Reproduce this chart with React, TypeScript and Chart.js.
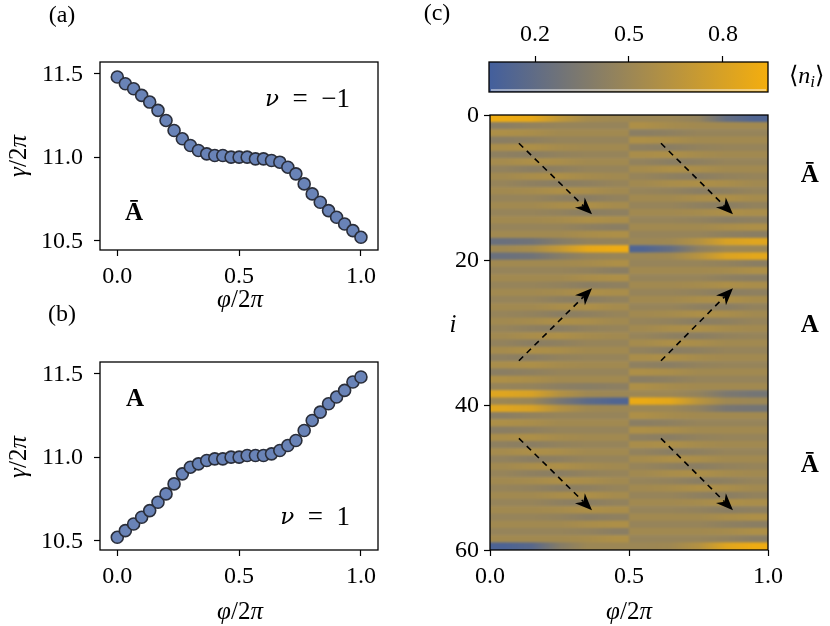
import React, { useEffect, useRef } from 'react';
import { Chart, registerables } from 'chart.js';
Chart.register(...registerables);

const FONT = "'Liberation Serif', 'DejaVu Serif', serif";
Chart.defaults.font.family = FONT;
Chart.defaults.color = '#000';

// ---------- data ----------
const phiGrid = [0, 0.033, 0.067, 0.1, 0.133, 0.167, 0.2, 0.233, 0.267, 0.3, 0.333, 0.367, 0.4, 0.433, 0.467, 0.5,
  0.533, 0.567, 0.6, 0.633, 0.667, 0.7, 0.733, 0.767, 0.8, 0.833, 0.867, 0.9, 0.933, 0.967, 1];
const gammaNuMinus = [11.48, 11.44, 11.41, 11.37, 11.33, 11.28, 11.22, 11.16, 11.11, 11.07, 11.04, 11.02, 11.01, 11.01, 11.0, 11.0,
  11.0, 10.99, 10.99, 10.98, 10.97, 10.94, 10.9, 10.84, 10.78, 10.73, 10.68, 10.64, 10.6, 10.56, 10.52];
const gammaNuPlus = [10.52, 10.56, 10.6, 10.64, 10.68, 10.73, 10.78, 10.84, 10.9, 10.94, 10.96, 10.98, 10.99, 10.99, 11.0, 11.0,
  11.01, 11.01, 11.01, 11.02, 11.04, 11.07, 11.1, 11.16, 11.22, 11.27, 11.32, 11.36, 11.4, 11.45, 11.48];
const phiTicks = [0, 0.5, 1];
const gammaTicks = [10.5, 11, 11.5];
const siteTicks = [0, 20, 40, 60];
const densityTicks = [0.2, 0.5, 0.8];

const phiColsLeft = [0.05, 0.15, 0.25, 0.35, 0.45];
const phiColsRight = [0.55, 0.65, 0.75, 0.85, 0.95];
// <n_i> in percent, rows i = 0..59
const densityLeft = [
  [92, 88, 68, 55, 52], [41, 45, 47, 47, 47], [59, 57, 53, 53, 53], [41, 43, 47, 47, 47], [57, 59, 55, 53, 53],
  [43, 41, 45, 47, 47], [55, 59, 57, 53, 53], [45, 41, 43, 47, 47], [53, 57, 59, 55, 53], [47, 43, 41, 43, 47],
  [53, 55, 59, 57, 53], [47, 47, 43, 41, 45], [53, 53, 57, 59, 55], [47, 47, 45, 41, 43], [53, 53, 55, 59, 57],
  [47, 47, 47, 43, 41], [53, 53, 53, 57, 59], [25, 28, 38, 45, 46], [52, 56, 70, 88, 92], [25, 28, 38, 46, 48],
  [53, 53, 53, 55, 59], [47, 47, 47, 45, 41], [53, 53, 53, 57, 59], [47, 47, 45, 41, 43], [53, 53, 55, 59, 57],
  [47, 47, 43, 41, 45], [53, 53, 57, 59, 55], [47, 45, 41, 43, 47], [53, 55, 59, 57, 53], [47, 43, 41, 45, 47],
  [53, 57, 59, 55, 53], [45, 41, 43, 47, 47], [55, 59, 57, 53, 53], [43, 41, 45, 47, 47], [57, 59, 55, 53, 53],
  [41, 43, 47, 47, 47], [59, 57, 53, 53, 53], [47, 46, 42, 40, 42], [84, 80, 62, 52, 50], [50, 48, 32, 18, 12],
  [84, 80, 62, 52, 50], [41, 45, 47, 47, 47], [59, 57, 53, 53, 53], [41, 43, 47, 47, 47], [57, 59, 55, 53, 53],
  [43, 41, 45, 47, 47], [55, 59, 57, 53, 53], [45, 41, 43, 47, 47], [53, 57, 59, 55, 53], [47, 43, 41, 45, 47],
  [53, 55, 59, 57, 53], [47, 45, 41, 43, 47], [53, 53, 57, 59, 55], [47, 47, 43, 41, 45], [53, 53, 55, 59, 57],
  [47, 47, 45, 41, 43], [53, 53, 53, 57, 59], [47, 47, 47, 45, 41], [53, 53, 53, 55, 59], [10, 16, 38, 50, 50],
];
const densityRight = [
  [50, 50, 45, 22, 12], [59, 55, 53, 53, 53], [41, 43, 47, 47, 47], [59, 57, 53, 53, 53], [43, 41, 45, 47, 47],
  [57, 59, 55, 53, 53], [45, 41, 43, 47, 47], [55, 59, 57, 53, 53], [47, 43, 41, 45, 47], [53, 57, 59, 57, 53],
  [47, 45, 41, 43, 47], [53, 53, 57, 59, 55], [47, 47, 43, 41, 45], [53, 53, 55, 59, 57], [47, 47, 45, 41, 43],
  [53, 53, 53, 57, 59], [47, 47, 47, 43, 41], [50, 52, 62, 80, 84], [12, 22, 42, 50, 50], [50, 52, 64, 82, 86],
  [47, 47, 47, 45, 41], [53, 53, 53, 55, 59], [47, 47, 47, 43, 41], [53, 53, 55, 59, 57], [47, 47, 45, 41, 43],
  [53, 53, 57, 59, 55], [47, 47, 43, 41, 45], [53, 55, 59, 57, 53], [47, 45, 41, 43, 47], [53, 57, 59, 55, 53],
  [47, 43, 41, 45, 47], [55, 59, 57, 53, 53], [45, 41, 43, 47, 47], [57, 59, 55, 53, 53], [43, 41, 45, 47, 47],
  [59, 57, 53, 53, 53], [41, 43, 47, 47, 47], [59, 55, 53, 53, 53], [50, 50, 45, 34, 30], [90, 86, 65, 52, 50],
  [50, 50, 44, 32, 30], [59, 55, 53, 53, 53], [41, 43, 47, 47, 47], [59, 57, 53, 53, 53], [43, 41, 45, 47, 47],
  [57, 59, 55, 53, 53], [45, 41, 43, 47, 47], [55, 59, 57, 53, 53], [47, 43, 41, 45, 47], [53, 57, 59, 55, 53],
  [47, 45, 41, 43, 47], [53, 55, 59, 57, 53], [47, 47, 43, 41, 45], [53, 53, 55, 59, 57], [47, 47, 45, 41, 43],
  [53, 53, 53, 57, 59], [47, 47, 47, 43, 41], [53, 53, 53, 55, 59], [47, 47, 47, 45, 41], [50, 52, 62, 84, 92],
];
const arrowStarts = [[0.104, 3.9], [0.615, 3.9], [0.104, 33.9], [0.615, 33.9], [0.104, 44.6], [0.615, 44.6]];
const arrowEnds = [[0.367, 13.7], [0.874, 13.7], [0.367, 23.9], [0.874, 23.9], [0.367, 54.5], [0.874, 54.5]];
const regionNames = ['Ā', 'A', 'Ā'];
const regionRows = [8.3, 29.1, 48.3];

// ---------- helpers ----------
const LOW = [56, 90, 165];
const HIGH = [255, 179, 5];
function cmap(v: number) {
  const t = Math.max(0, Math.min(1, v));
  const c = LOW.map((l, k) => Math.round(l + (HIGH[k] - l) * t));
  return `rgb(${c[0]},${c[1]},${c[2]})`;
}

type Seg = { t: string; it?: boolean; b?: boolean; sub?: boolean; f?: string; s?: number };
function segFont(s: Seg, size: number) {
  const sz = (s.s || 1) * (s.sub ? size * 0.7 : size);
  return `${s.it ? 'italic ' : ''}${s.b ? 'bold ' : ''}${Math.round(sz)}px ${s.f || FONT}`;
}
function drawMath(ctx: CanvasRenderingContext2D, segs: Seg[], x: number, y: number, size: number,
  align: 'left' | 'center' | 'right' = 'center', rot = 0) {
  ctx.save();
  ctx.translate(x, y);
  if (rot) ctx.rotate(rot);
  let w = 0;
  const widths = segs.map((s) => { ctx.font = segFont(s, size); const m = ctx.measureText(s.t).width; w += m; return m; });
  let cx = align === 'left' ? 0 : align === 'center' ? -w / 2 : -w;
  ctx.textBaseline = 'middle';
  ctx.textAlign = 'left';
  ctx.fillStyle = '#000';
  segs.forEach((s, i) => { ctx.font = segFont(s, size); ctx.fillText(s.t, cx, s.sub ? size * 0.25 : 0); cx += widths[i]; });
  ctx.restore();
}

const PHI_LABEL: Seg[] = [{ t: 'φ', it: true }, { t: '/2' }, { t: 'π', it: true }];
const GAMMA_LABEL: Seg[] = [{ t: 'γ', it: true }, { t: '/2' }, { t: 'π', it: true }];
const NU: Seg = { t: 'ν', it: true, f: "'DejaVu Serif', serif", s: 0.85 };
const TICK_SIZE = 24;
const LABEL_SIZE = 25;

function noPad(s: any) { s.paddingTop = 0; s.paddingBottom = 0; s.paddingLeft = 0; s.paddingRight = 0; }

function linAxis(min: number, max: number, ticks: number[], fmt: (v: number) => string, pad: number, fit: (s: any) => void, extra: any = {}, showLabels = true) {
  return {
    type: 'linear', min, max,
    afterBuildTicks: (s: any) => { s.ticks = ticks.map((v) => ({ value: v })); },
    afterFit: (s: any) => { fit(s); noPad(s); },
    grid: { display: true, drawOnChartArea: false, drawTicks: true, tickLength: 6, tickColor: '#000', tickWidth: 1.2 },
    border: { display: false },
    ticks: { display: showLabels, color: '#000', font: { size: TICK_SIZE, family: FONT }, autoSkip: false, maxRotation: 0, minRotation: 0, padding: pad,
      callback: (v: any) => fmt(Number(v)) },
    ...extra,
  };
}

// y tick labels drawn at an exact gap from the frame
function yLabels(chart: any, ticks: number[], fmt: (v: number) => string, gap: number) {
  const { ctx, chartArea: a, scales } = chart;
  ctx.save();
  ctx.font = `${TICK_SIZE}px ${FONT}`;
  ctx.fillStyle = '#000';
  ctx.textAlign = 'right';
  ctx.textBaseline = 'middle';
  ticks.forEach((v) => ctx.fillText(fmt(v), a.left - gap, scales.y.getPixelForValue(v) + 1));
  ctx.restore();
}

const boxPlugin = {
  id: 'box',
  afterDraw(chart: any) {
    const { ctx, chartArea: a } = chart;
    ctx.save();
    ctx.strokeStyle = '#000';
    ctx.lineWidth = 1.3;
    ctx.strokeRect(a.left, a.top, a.right - a.left, a.bottom - a.top);
    ctx.restore();
  },
};

function ChartBox({ left, top, width, height, build }: { left: number; top: number; width: number; height: number; build: () => any }) {
  const ref = useRef<HTMLCanvasElement>(null);
  useEffect(() => {
    const c = new Chart(ref.current as HTMLCanvasElement, build());
    return () => c.destroy();
  }, []);
  return <canvas ref={ref} width={width} height={height} style={{ position: 'absolute', left, top, width, height }} />;
}

const fmt1 = (v: number) => v.toFixed(1);

function scatterConfig(gamma: number[], padTop: number, xh: number, texts: (ctx: CanvasRenderingContext2D) => void) {
  return {
    type: 'scatter',
    data: {
      datasets: [{
        data: phiGrid.map((x, i) => ({ x, y: gamma[i] })),
        pointRadius: 6,
        pointBackgroundColor: '#6983b7',
        pointBorderColor: '#2a2e3a',
        pointBorderWidth: 1.6,
      }],
    },
    options: {
      responsive: false,
      animation: false,
      layout: { padding: { left: 0, top: padTop, right: 22, bottom: 0 } },
      plugins: { legend: { display: false }, tooltip: { enabled: false } },
      scales: {
        x: linAxis(-0.071, 1.07, phiTicks, fmt1, 6, (s) => { s.height = xh; }),
        y: linAxis(10.444, 11.57, gammaTicks, fmt1, 11, (s) => { s.width = 100; }, {}, false),
      },
    },
    plugins: [boxPlugin, { id: 'texts', afterDraw: (chart: any) => { yLabels(chart, gammaTicks, fmt1, 17); texts(chart.ctx); } }],
  };
}

const EN = '\u2002';

const buildA = () => scatterConfig(gammaNuMinus, 62, 70, (ctx) => {
  drawMath(ctx, [{ t: '(a)' }], 62, 16, 24);
  drawMath(ctx, [NU, { t: `${EN}=${EN}−1` }], 350, 100, 27, 'right');
  drawMath(ctx, [{ t: 'Ā', b: true }], 134, 214, 25);
  drawMath(ctx, GAMMA_LABEL, 19, 156, LABEL_SIZE, 'center', -Math.PI / 2);
  drawMath(ctx, PHI_LABEL, 240, 300, LABEL_SIZE);
});

const buildB = () => scatterConfig(gammaNuPlus, 72, 76, (ctx) => {
  drawMath(ctx, [{ t: '(b)' }], 62, 25, 24);
  drawMath(ctx, [{ t: 'A', b: true }], 135, 110, 25);
  drawMath(ctx, [NU, { t: `${EN}=${EN}1` }], 350, 228, 27, 'right');
  drawMath(ctx, GAMMA_LABEL, 19, 167, LABEL_SIZE, 'center', -Math.PI / 2);
  drawMath(ctx, PHI_LABEL, 240, 322, LABEL_SIZE);
});

const heatPlugin = {
  id: 'heat',
  beforeDatasetsDraw(chart: any) {
    const { ctx, chartArea: a, scales } = chart;
    const x = scales.x, y = scales.y;
    const m = 8;
    const W = Math.ceil(a.right - a.left) + 2 * m, H = Math.ceil(a.bottom - a.top) + 2 * m;
    const off = document.createElement('canvas');
    off.width = W; off.height = H;
    const o = off.getContext('2d') as CanvasRenderingContext2D;
    const halves = [
      { x0: 0, x1: 0.5, cols: phiColsLeft, data: densityLeft },
      { x0: 0.5, x1: 1, cols: phiColsRight, data: densityRight },
    ];
    halves.forEach((h, hi) => {
      const px0 = x.getPixelForValue(h.x0) - a.left + m, px1 = x.getPixelForValue(h.x1) - a.left + m;
      const ex0 = hi === 0 ? 0 : px0, ex1 = hi === 1 ? W : px1;
      const nRows = h.data.length;
      h.data.forEach((row, r) => {
        let py0 = y.getPixelForValue(r) - a.top + m, py1 = y.getPixelForValue(r + 1) - a.top + m;
        if (r === 0) py0 = 0;
        if (r === nRows - 1) py1 = H;
        const g = o.createLinearGradient(px0, 0, px1, 0);
        g.addColorStop(0, cmap(row[0] / 100));
        h.cols.forEach((c, k) => g.addColorStop((c - h.x0) / (h.x1 - h.x0), cmap(row[k] / 100)));
        g.addColorStop(1, cmap(row[row.length - 1] / 100));
        o.fillStyle = g;
        o.fillRect(ex0, Math.min(py0, py1) - 0.3, ex1 - ex0, Math.abs(py1 - py0) + 0.6);
      });
    });
    ctx.save();
    ctx.beginPath();
    ctx.rect(a.left, a.top, a.right - a.left, a.bottom - a.top);
    ctx.clip();
    ctx.filter = 'blur(1.3px)';
    ctx.drawImage(off, a.left - m, a.top - m);
    ctx.restore();
  },
  afterDatasetsDraw(chart: any) {
    const { ctx, scales } = chart;
    const x = scales.x, y = scales.y;
    ctx.save();
    arrowStarts.forEach((s, i) => {
      const e = arrowEnds[i];
      const x0 = x.getPixelForValue(s[0]), y0 = y.getPixelForValue(s[1]);
      const x1 = x.getPixelForValue(e[0]), y1 = y.getPixelForValue(e[1]);
      const ang = Math.atan2(y1 - y0, x1 - x0);
      const dx = Math.cos(ang), dy = Math.sin(ang);
      const L = 17, W = 7;
      ctx.strokeStyle = '#000';
      ctx.lineWidth = 1.6;
      ctx.setLineDash([6, 5]);
      ctx.beginPath();
      ctx.moveTo(x0, y0);
      ctx.lineTo(x1 - dx * L * 0.7, y1 - dy * L * 0.7);
      ctx.stroke();
      ctx.setLineDash([]);
      ctx.fillStyle = '#000';
      ctx.beginPath();
      ctx.moveTo(x1, y1);
      ctx.lineTo(x1 - dx * L - dy * W, y1 - dy * L + dx * W);
      ctx.lineTo(x1 - dx * L * 0.7, y1 - dy * L * 0.7);
      ctx.lineTo(x1 - dx * L + dy * W, y1 - dy * L - dx * W);
      ctx.closePath();
      ctx.fill();
    });
    ctx.restore();
  },
  afterDraw(chart: any) {
    const { ctx, scales } = chart;
    const x = scales.x, y = scales.y;
    yLabels(chart, siteTicks, (v) => String(v), 11);
    regionNames.forEach((n, i) => {
      drawMath(ctx, [{ t: n, b: true }], x.getPixelForValue(1.15), y.getPixelForValue(regionRows[i]), 25);
    });
    drawMath(ctx, [{ t: 'i', it: true }], 33, 225, LABEL_SIZE);
    drawMath(ctx, PHI_LABEL, 209, 512, LABEL_SIZE);
  },
};

const buildHeat = () => ({
  type: 'scatter',
  data: { datasets: [] },
  options: {
    responsive: false,
    animation: false,
    layout: { padding: { left: 0, top: 15, right: 62, bottom: 0 } },
    plugins: { legend: { display: false }, tooltip: { enabled: false } },
    scales: {
      x: linAxis(0, 1, phiTicks, fmt1, 6, (s) => { s.height = 76; }),
      y: linAxis(0, 60, siteTicks, (v) => String(Math.round(v)), 9, (s) => { s.width = 70; }, { reverse: true }, false),
    },
  },
  plugins: [heatPlugin, boxPlugin],
});

const colorbarPlugin = {
  id: 'cbar',
  beforeDatasetsDraw(chart: any) {
    const { ctx, chartArea: a, scales } = chart;
    const x = scales.x;
    const g = ctx.createLinearGradient(a.left, 0, a.right, 0);
    g.addColorStop(0, cmap(x.min));
    g.addColorStop(1, cmap(x.max));
    ctx.save();
    ctx.fillStyle = g;
    ctx.fillRect(a.left, a.top, a.right - a.left, a.bottom - a.top);
    ctx.strokeStyle = 'rgba(255,255,255,0.9)';
    ctx.lineWidth = 1;
    ctx.beginPath();
    ctx.moveTo(a.left + 2, a.bottom - 2);
    ctx.lineTo(a.right - 2, a.bottom - 2);
    ctx.stroke();
    ctx.restore();
  },
  afterDraw(chart: any) {
    const { ctx } = chart;
    drawMath(ctx, [{ t: '(c)' }], 17, 14, 24);
    drawMath(ctx, [{ t: '⟨' }, { t: 'n', it: true }, { t: 'i', it: true, sub: true }, { t: '⟩' }], 369, 77, 24, 'left');
  },
};

const buildBar = () => ({
  type: 'scatter',
  data: { datasets: [] },
  options: {
    responsive: false,
    animation: false,
    layout: { padding: { left: 69, top: 0, right: 62, bottom: 8 } },
    plugins: { legend: { display: false }, tooltip: { enabled: false } },
    scales: {
      x: linAxis(0.053, 0.944, densityTicks, fmt1, 7, (s) => { s.height = 62; }, { position: 'top' }),
      y: { type: 'linear', min: 0, max: 1, display: false },
    },
  },
  plugins: [colorbarPlugin, boxPlugin],
});

export default function App() {
  return (
    <div style={{ position: 'absolute', left: 0, top: 0, width: 830, height: 626, background: '#fff', overflow: 'hidden' }}>
      <ChartBox left={0} top={0} width={400} height={320} build={buildA} />
      <ChartBox left={0} top={290} width={400} height={336} build={buildB} />
      <ChartBox left={420} top={0} width={410} height={100} build={buildBar} />
      <ChartBox left={420} top={100} width={410} height={526} build={buildHeat} />
    </div>
  );
}
